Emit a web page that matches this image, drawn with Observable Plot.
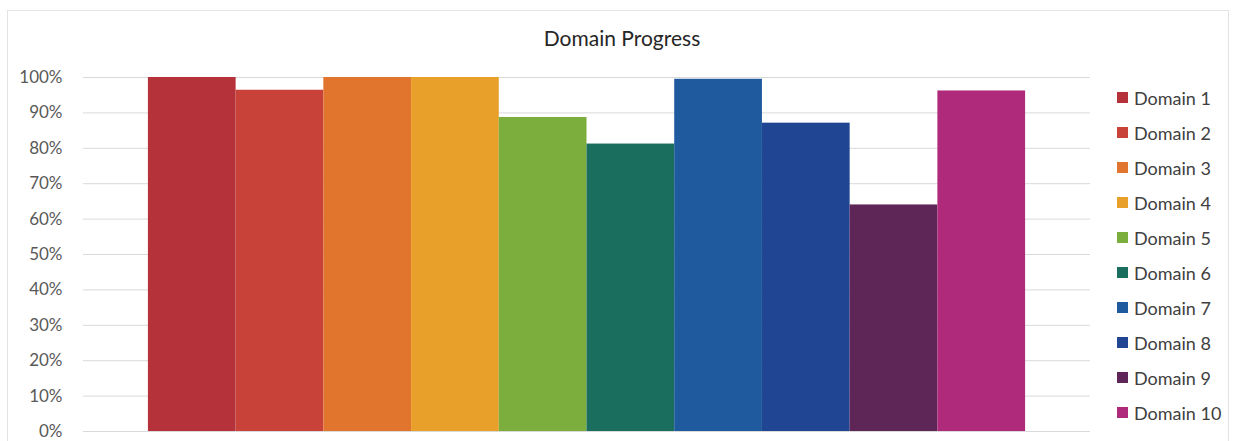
<!DOCTYPE html>
<html>
<head>
<meta charset="utf-8">
<script src="https://cdn.jsdelivr.net/npm/d3@7"></script>
<script src="https://cdn.jsdelivr.net/npm/@observablehq/plot@0.6"></script>
<style>
  html, body { margin: 0; padding: 0; background: #fff; }
  #wrap { position: relative; width: 1233px; height: 441px; overflow: hidden; font-family: Lato, "Open Sans", sans-serif; }
  #frame { position: absolute; left: 7px; top: 10px; width: 1222px; height: 440px; border: 1px solid #e4e4e4; box-sizing: border-box; }
  #title { position: absolute; left: 0; width: 1244px; top: 25px; text-align: center; font-size: 21px; color: #262626; }
  #chart { position: absolute; left: 0; top: 0; }
  #legend { position: absolute; left: 1117px; top: 80px; }
  .row { height: 35px; display: flex; align-items: center; font-size: 18px; color: #404040; }
  .sw { width: 11px; height: 11px; margin-right: 6px; }
</style>
</head>
<body>
<div id="wrap">
  <div id="frame"></div>
  <div id="chart"></div>
  <div id="title">Domain Progress</div>
  <div id="legend"></div>
</div>
<script>
const categories = ["Domain 1","Domain 2","Domain 3","Domain 4","Domain 5","Domain 6","Domain 7","Domain 8","Domain 9","Domain 10"];
const values = [1.00, 0.964, 1.00, 1.00, 0.887, 0.812, 0.995, 0.871, 0.640, 0.962];
const colors = ["#b5323a","#c9423a","#e1752e","#e9a02a","#7cae3e","#1a6e5e","#1f5a9e","#1f4593","#5e2656","#b02a7b"];
const yTicks = [0,0.1,0.2,0.3,0.4,0.5,0.6,0.7,0.8,0.9,1.0];

const data = categories.map((c, i) => ({category: c, value: values[i]}));

const chart = Plot.plot({
  width: 1233,
  height: 441,
  marginLeft: 83,
  marginRight: 143,
  marginTop: 77,
  marginBottom: 10,
  style: {background: "transparent", fontFamily: "Lato, 'Open Sans', sans-serif"},
  x: {domain: categories, paddingInner: 0, paddingOuter: 0.74, axis: null, round: false},
  y: {domain: [0, 1], ticks: yTicks, tickFormat: d3.format(".0%")},
  color: {domain: categories, range: colors},
  marks: [
    Plot.ruleY(yTicks, {stroke: "#d9d9d9", strokeWidth: 1}),
    Plot.barY(data, {x: "category", y: "value", fill: "category"}),
    Plot.axisY({ticks: yTicks, tickFormat: d3.format(".0%"), tickSize: 0, tickPadding: 21, fontSize: 17, fill: "#595959", label: null})
  ]
});
document.getElementById("chart").appendChild(chart);

const legend = document.getElementById("legend");
categories.forEach((c, i) => {
  const row = document.createElement("div");
  row.className = "row";
  const sw = document.createElement("div");
  sw.className = "sw";
  sw.style.background = colors[i];
  const t = document.createElement("span");
  t.textContent = c;
  row.appendChild(sw);
  row.appendChild(t);
  legend.appendChild(row);
});
</script>
</body>
</html>
